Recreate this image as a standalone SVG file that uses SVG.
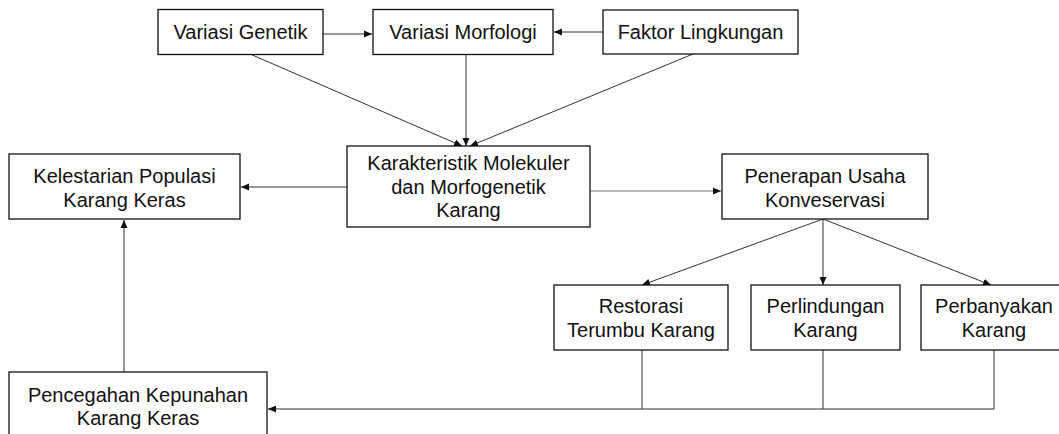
<svg xmlns="http://www.w3.org/2000/svg" width="1059" height="434" viewBox="0 0 1059 434">
<style>
.box{fill:#fff;stroke:#111;stroke-width:1.3}
.t{font-family:"Liberation Sans",Arial,sans-serif;font-size:20px;fill:#111;text-anchor:middle}
.c{fill:none;stroke:#333;stroke-width:1}
.g{fill:none;stroke:#777;stroke-width:1.2}
</style>
<defs>
<marker id="ah" viewBox="0 0 8 8" refX="8" refY="4" markerWidth="8" markerHeight="8" markerUnits="userSpaceOnUse" orient="auto">
<path d="M0,0.5 L8,4 L0,7.5 Z" fill="#111"/>
</marker>
</defs>
<rect width="1059" height="434" fill="#fff"/>
<g id="connectors">
<line class="c" x1="323" y1="34" x2="372" y2="34" marker-end="url(#ah)"/>
<line class="c" x1="603" y1="32" x2="554" y2="32" marker-end="url(#ah)"/>
<line class="c" x1="250" y1="54" x2="462" y2="146" marker-end="url(#ah)"/>
<line class="c" x1="466" y1="55" x2="466" y2="146" marker-end="url(#ah)"/>
<line class="c" x1="693" y1="54" x2="470" y2="146" marker-end="url(#ah)"/>
<line class="c" x1="347" y1="187" x2="241" y2="187" marker-end="url(#ah)"/>
<line class="g" x1="590" y1="191" x2="721" y2="191" marker-end="url(#ah)"/>
<line class="c" x1="823" y1="219" x2="642" y2="285" marker-end="url(#ah)"/>
<line class="c" x1="823" y1="219" x2="823" y2="285" marker-end="url(#ah)"/>
<line class="c" x1="823" y1="219" x2="991" y2="285" marker-end="url(#ah)"/>
<polyline class="c" points="642,350 642,409"/>
<polyline class="c" points="823,350 823,409"/>
<polyline class="c" points="994,350 994,409 268,409" marker-end="url(#ah)"/>
<line class="c" x1="124" y1="372" x2="124" y2="220" marker-end="url(#ah)"/>
</g>
<g id="variasi-genetik">
<rect class="box" x="158" y="9.5" width="165" height="45"/>
<text class="t" x="240.5" y="39">Variasi Genetik</text>
</g>
<g id="variasi-morfologi">
<rect class="box" x="373" y="9.5" width="180" height="45"/>
<text class="t" x="463" y="39">Variasi Morfologi</text>
</g>
<g id="faktor-lingkungan">
<rect class="box" x="603" y="10" width="195" height="44"/>
<text class="t" x="700.5" y="39">Faktor Lingkungan</text>
</g>
<g id="kelestarian">
<rect class="box" x="9" y="154" width="231" height="65"/>
<text class="t" x="124.5" y="183">Kelestarian Populasi</text>
<text class="t" x="124.5" y="207">Karang Keras</text>
</g>
<g id="karakteristik">
<rect class="box" x="347" y="146" width="243" height="81"/>
<text class="t" x="468.5" y="170">Karakteristik Molekuler</text>
<text class="t" x="468.5" y="194">dan Morfogenetik</text>
<text class="t" x="468.5" y="217">Karang</text>
</g>
<g id="penerapan">
<rect class="box" x="722" y="154" width="206" height="65"/>
<text class="t" x="825" y="183">Penerapan Usaha</text>
<text class="t" x="825" y="207">Konveservasi</text>
</g>
<g id="restorasi">
<rect class="box" x="554" y="285" width="174" height="65"/>
<text class="t" x="641" y="313">Restorasi</text>
<text class="t" x="641" y="337">Terumbu Karang</text>
</g>
<g id="perlindungan">
<rect class="box" x="751" y="285" width="149" height="65"/>
<text class="t" x="825.5" y="313">Perlindungan</text>
<text class="t" x="825.5" y="337">Karang</text>
</g>
<g id="perbanyakan">
<rect class="box" x="921" y="285" width="146" height="65"/>
<text class="t" x="994" y="313">Perbanyakan</text>
<text class="t" x="994" y="337">Karang</text>
</g>
<g id="pencegahan">
<rect class="box" x="9" y="372" width="258" height="75"/>
<text class="t" x="138" y="402">Pencegahan Kepunahan</text>
<text class="t" x="138" y="425">Karang Keras</text>
</g>
</svg>
